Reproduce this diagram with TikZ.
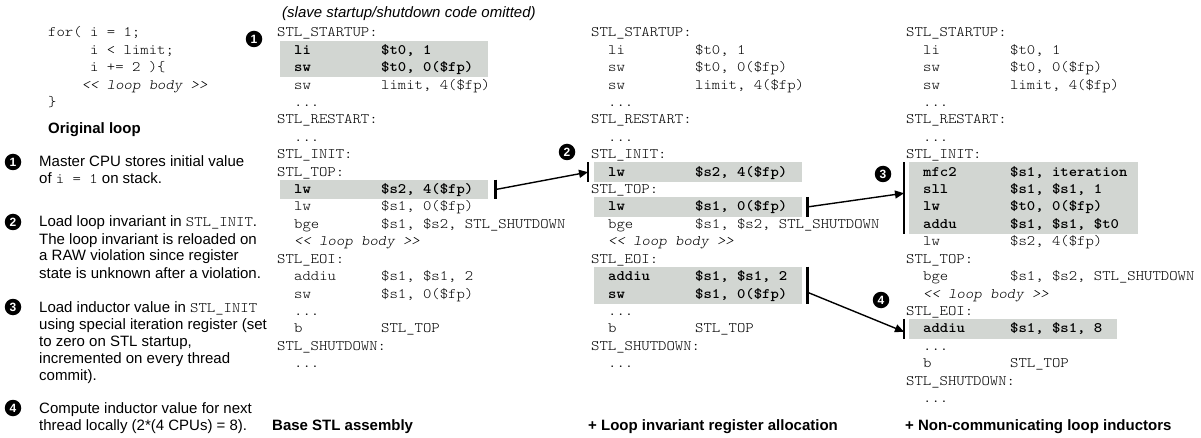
\documentclass[tikz,border=0pt]{standalone}
\usepackage{fontspec}
\setmainfont{Liberation Sans}
\newfontfamily\monof{lmmonolt10-regular}[Extension=.otf, BoldFont=lmmonolt10-bold, ItalicFont=lmmonolt10-oblique, BoldItalicFont=lmmonolt10-boldoblique, FakeStretch=1.1]
\usetikzlibrary{arrows.meta,calc}
\definecolor{hlgray}{RGB}{210,214,210}
\newcommand\mf{\monof\fontsize{14.5}{17}\selectfont}
\tikzset{
  code/.style={font=\mf, inner sep=0pt, anchor=base west, text=black},
  codeb/.style={code, font=\mf\bfseries},
  codei/.style={code, font=\mf\itshape},
  txt/.style={font=\fontsize{15}{17}\selectfont, inner sep=0pt, anchor=base west},
  capt/.style={txt, font=\bfseries\fontsize{15}{17}\selectfont},
  hlbox/.style={fill=hlgray, draw=none, inner sep=0pt, anchor=north west},
  num/.style={circle, fill=black, text=white, inner sep=0pt, minimum size=16.5pt,
    font=\bfseries\fontsize{12}{12}\selectfont},
  bar/.style={line width=2.8pt},
  conn/.style={line width=1.4pt, -{Triangle[length=9pt,width=8pt]}},
}
% label line: name, x0, row, text
\newcommand\lab[4]{\node[code] (#1) at (#2,{37+17.4*#3}) {#4};}
% dots line: name, x0, row
\newcommand\dts[3]{\node[code] (#1) at ({#2+17},{37+17.4*#3}) {...};}
% instruction: name, x0, row, mnemonic, operands, style
\newcommand\ins[6]{\node[#6] (#1m) at ({#2+17},{37+17.4*#3}) {#4};
  \node[#6] (#1o) at ({#2+104},{37+17.4*#3}) {#5};}
% highlight box: name, x0, first row, last row, width
\newcommand\hlb[5]{\node[hlbox, minimum width=#5, minimum height={17.4*(#4-#3)+19.5}] (#1) at ({#2+3},{33+17.4*#3-10}) {};}
\begin{document}
\begin{tikzpicture}[x=1pt,y=-1pt]
\useasboundingbox (0,0) rectangle (1201,438);
\fill[white] (0,0) rectangle (1201,438);

% ---------------- original loop
\node[code] (f0) at (48,37) {for( i = 1;};
\node[code] (f1) at (90,{37+17.4}) {i < limit;};
\node[code] (f2) at (90,{37+17.4*2}) {i += 2 )\{};
\node[codei] (f3) at (81.6,{37+17.4*3}) {<< loop body >>};
\node[code] (f4) at (48,{37+17.4*4}) {\}};
\node[capt] (origcap) at (48,134) {Original loop};

% ---------------- notes
\node[num] (n1l) at (13,162) {1};
\node[txt] (t1a) at (39,167) {Master CPU stores initial value};
\node[txt] (t1b) at (39,184) {of {\mf i = 1} on stack.};

\node[num] (n2l) at (13,222) {2};
\node[txt] (t2a) at (39,227) {Load loop invariant in {\mf STL\_INIT}.};
\node[txt] (t2b) at (39,244) {The loop invariant is reloaded on};
\node[txt] (t2c) at (39,261) {a RAW violation since register};
\node[txt] (t2d) at (39,278) {state is unknown after a violation.};

\node[num] (n3l) at (13,307) {3};
\node[txt] (t3a) at (39,312) {Load inductor value in {\mf STL\_INIT}};
\node[txt] (t3b) at (39,329) {using special iteration register (set};
\node[txt] (t3c) at (39,346) {to zero on STL startup,};
\node[txt] (t3d) at (39,363) {incremented on every thread};
\node[txt] (t3e) at (39,380) {commit).};

\node[num] (n4l) at (13,408) {4};
\node[txt] (t4a) at (39,413) {Compute inductor value for next};
\node[txt] (t4b) at (39,430) {thread locally (2*(4 CPUs) = 8).};

% ---------------- captions
\node[txt, font=\itshape\fontsize{15}{17}\selectfont] (omit) at (282,18) {(slave startup/shutdown code omitted)};
\node[capt] (cap1) at (272,430) {Base STL assembly};
\node[capt] (cap2) at (588,430) {+ Loop invariant register allocation};
\node[capt] (cap3) at (905,430) {+ Non-communicating loop inductors};

% ---------------- highlight boxes
\hlb{bA}{277}{1}{2}{208}
\hlb{bB}{277}{9}{9}{208}
\hlb{bC}{591}{8}{8}{208}
\hlb{bD}{591}{10}{10}{208}
\hlb{bE}{591}{14}{15}{208}
\hlb{bF}{906}{8}{11}{229}
\hlb{bG}{906}{17}{17}{208}

% ---------------- column 1
\lab{a0}{277}{0}{STL\_STARTUP:}
\ins{a1}{277}{1}{li}{\$t0, 1}{codeb}
\ins{a2}{277}{2}{sw}{\$t0, 0(\$fp)}{codeb}
\ins{a3}{277}{3}{sw}{limit, 4(\$fp)}{code}
\dts{a4}{277}{4}
\lab{a5}{277}{5}{STL\_RESTART:}
\dts{a6}{277}{6}
\lab{a7}{277}{7}{STL\_INIT:}
\lab{a8}{277}{8}{STL\_TOP:}
\ins{a9}{277}{9}{lw}{\$s2, 4(\$fp)}{codeb}
\ins{a10}{277}{10}{lw}{\$s1, 0(\$fp)}{code}
\ins{a11}{277}{11}{bge}{\$s1, \$s2, STL\_SHUTDOWN}{code}
\node[codei] (a12) at ({277+17},{37+17.4*12}) {<< loop body >>};
\lab{a13}{277}{13}{STL\_EOI:}
\ins{a14}{277}{14}{addiu}{\$s1, \$s1, 2}{code}
\ins{a15}{277}{15}{sw}{\$s1, 0(\$fp)}{code}
\dts{a16}{277}{16}
\ins{a17}{277}{17}{b}{STL\_TOP}{code}
\lab{a18}{277}{18}{STL\_SHUTDOWN:}
\dts{a19}{277}{19}

% ---------------- column 2
\lab{b0}{591}{0}{STL\_STARTUP:}
\ins{b1}{591}{1}{li}{\$t0, 1}{code}
\ins{b2}{591}{2}{sw}{\$t0, 0(\$fp)}{code}
\ins{b3}{591}{3}{sw}{limit, 4(\$fp)}{code}
\dts{b4}{591}{4}
\lab{b5}{591}{5}{STL\_RESTART:}
\dts{b6}{591}{6}
\lab{b7}{591}{7}{STL\_INIT:}
\ins{b8}{591}{8}{lw}{\$s2, 4(\$fp)}{codeb}
\lab{b9}{591}{9}{STL\_TOP:}
\ins{b10}{591}{10}{lw}{\$s1, 0(\$fp)}{codeb}
\ins{b11}{591}{11}{bge}{\$s1, \$s2, STL\_SHUTDOWN}{code}
\node[codei] (b12) at ({591+17},{37+17.4*12}) {<< loop body >>};
\lab{b13}{591}{13}{STL\_EOI:}
\ins{b14}{591}{14}{addiu}{\$s1, \$s1, 2}{codeb}
\ins{b15}{591}{15}{sw}{\$s1, 0(\$fp)}{codeb}
\dts{b16}{591}{16}
\ins{b17}{591}{17}{b}{STL\_TOP}{code}
\lab{b18}{591}{18}{STL\_SHUTDOWN:}
\dts{b19}{591}{19}

% ---------------- column 3
\lab{c0}{906}{0}{STL\_STARTUP:}
\ins{c1}{906}{1}{li}{\$t0, 1}{code}
\ins{c2}{906}{2}{sw}{\$t0, 0(\$fp)}{code}
\ins{c3}{906}{3}{sw}{limit, 4(\$fp)}{code}
\dts{c4}{906}{4}
\lab{c5}{906}{5}{STL\_RESTART:}
\dts{c6}{906}{6}
\lab{c7}{906}{7}{STL\_INIT:}
\ins{c8}{906}{8}{mfc2}{\$s1, iteration}{codeb}
\ins{c9}{906}{9}{sll}{\$s1, \$s1, 1}{codeb}
\ins{c10}{906}{10}{lw}{\$t0, 0(\$fp)}{codeb}
\ins{c11}{906}{11}{addu}{\$s1, \$s1, \$t0}{codeb}
\ins{c12}{906}{12}{lw}{\$s2, 4(\$fp)}{code}
\lab{c13}{906}{13}{STL\_TOP:}
\ins{c14}{906}{14}{bge}{\$s1, \$s2, STL\_SHUTDOWN}{code}
\node[codei] (c15) at ({906+17},{37+17.4*15}) {<< loop body >>};
\lab{c16}{906}{16}{STL\_EOI:}
\ins{c17}{906}{17}{addiu}{\$s1, \$s1, 8}{codeb}
\dts{c18}{906}{18}
\ins{c19}{906}{19}{b}{STL\_TOP}{code}
\lab{c20}{906}{20}{STL\_SHUTDOWN:}
\dts{c21}{906}{21}

% ---------------- numbered markers
\node[num] (n1) at (254,39) {1};
\node[num] (n2) at (567,152) {2};
\node[num] (n3) at (883,174) {3};
\node[num] (n4) at (881,300) {4};

% ---------------- connectors
% 2
\draw[bar] ($(bB.north east)+(7,0)$) -- ($(bB.south east)+(7,0)$);
\draw[bar] ($(bC.north west)+(-6,0)$) -- ($(bC.south west)+(-6,0)$);
\coordinate (s2) at ($(bB.east)+(7,0)$);
\coordinate (e2) at ($(bC.west)+(-6,0)$);
\draw[conn] (s2) -- (e2);
% 3
\draw[bar] ($(bD.north east)+(5,0)$) -- ($(bD.south east)+(5,0)$);
\draw[bar] ($(bF.north west)+(-5,0)$) -- ($(bF.south west)+(-5,0)$);
\coordinate (s3) at ($(bD.east)+(5,0)$);
\coordinate (e3) at ($(bF.west)+(-5,-5)$);
\draw[conn] (s3) -- (e3);
% 4
\draw[bar] ($(bE.north east)+(5,0)$) -- ($(bE.south east)+(5,0)$);
\draw[bar] ($(bG.north west)+(-5,0)$) -- ($(bG.south west)+(-5,0)$);
\coordinate (s4) at ($(bE.east)+(5,7)$);
\coordinate (e4) at ($(bG.west)+(-5,3)$);
\draw[conn] (s4) -- (e4);
\end{tikzpicture}
\end{document}
